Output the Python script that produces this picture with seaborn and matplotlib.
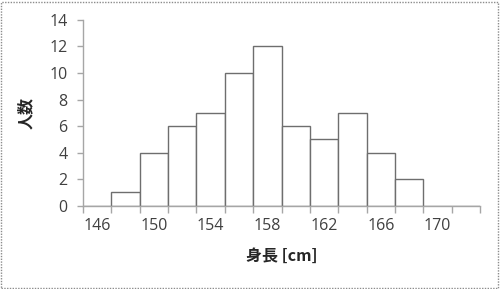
import matplotlib
matplotlib.use("Agg")
import matplotlib.pyplot as plt
import seaborn as sns
import pandas as pd
import numpy as np
from matplotlib.patches import Rectangle

categories = ["146", "148", "150", "152", "154", "156", "158", "160", "162", "164", "166", "168", "170", "172"]
counts = [0, 1, 4, 6, 7, 10, 12, 6, 5, 7, 4, 2, 0, 0]
xtick_labels = ["146", "", "150", "", "154", "", "158", "", "162", "", "166", "", "170", ""]
yticks = [0, 2, 4, 6, 8, 10, 12, 14]

sns.set_theme(style="white")
plt.rcParams['font.family'] = ['Open Sans', 'Noto Sans CJK JP', 'DejaVu Sans']

df = pd.DataFrame({"身長": categories, "人数": counts})

fig = plt.figure(figsize=(5, 2.89), dpi=100)
ax = fig.add_axes([0.166, 0.288, 0.794, 0.643])
sns.barplot(data=df, x="身長", y="人数", order=categories, width=1.0,
            color="white", edgecolor="#6e6e6e", linewidth=1.0, ax=ax)

ax.set_xlim(-0.5, len(categories) - 0.5)
ax.set_ylim(0, 14)
ax.set_yticks(yticks)
ax.set_yticklabels([str(v) for v in yticks])
ax.set_xticks(range(len(categories)))
ax.set_xticklabels(xtick_labels)
ax.set_xticks(np.arange(-0.5, len(categories), 1.0), minor=True)

for s in ["top", "right"]:
    ax.spines[s].set_visible(False)
for s in ["left", "bottom"]:
    ax.spines[s].set_color("#a6a6a6")
    ax.spines[s].set_linewidth(1.0)

ax.tick_params(axis="x", which="major", length=0, pad=9, labelsize=11.5, labelcolor="#404040")
ax.tick_params(axis="x", which="minor", length=5, color="#a6a6a6", width=1, direction="out", bottom=True)
ax.tick_params(axis="y", length=4, color="#a6a6a6", width=1, direction="out", left=True, pad=7,
               labelsize=11.5, labelcolor="#404040")

ax.set_xlabel("身長 [cm]", fontsize=11.5, fontweight="bold", color="#262626",
              family=['Noto Sans CJK JP', 'DejaVu Sans'], labelpad=10)
ax.set_ylabel("人数", fontsize=11.5, fontweight="bold", color="#262626",
              family=['Noto Sans CJK JP', 'DejaVu Sans'], labelpad=11)

fig.patches.append(Rectangle((0.002, 0.004), 0.994, 0.99, transform=fig.transFigure,
                             fill=False, edgecolor="#8c8c8c", linestyle=(0, (1, 1)), linewidth=1.0))

fig.savefig("out.png", dpi=100)
